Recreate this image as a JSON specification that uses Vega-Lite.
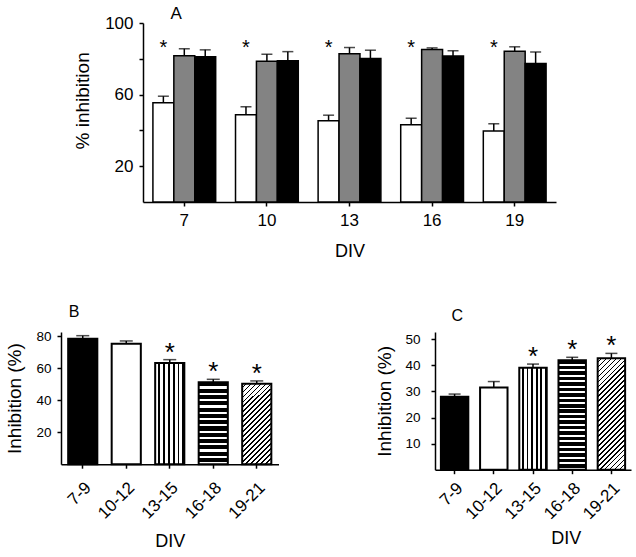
{
  "$schema": "https://vega.github.io/schema/vega-lite/v6.json",
  "padding": {"left": 4, "top": 4, "right": 2, "bottom": 2},
  "config": {
    "font": "Liberation Sans",
    "view": {"stroke": null},
    "axis": {"labelColor": "black", "titleColor": "black", "domainColor": "black", "tickColor": "black", "domainWidth": 1.5, "tickWidth": 1.5, "grid": false, "titleFontWeight": "normal", "labelFont": "Liberation Sans", "titleFont": "Liberation Sans"},
    "title": {"fontWeight": "normal", "color": "black", "font": "Liberation Sans"}
  },
  "datasets": {
    "a": [
      {"div": "7", "cond": "c1", "v": 55.4, "e": 59.1},
      {"div": "7", "cond": "c2", "v": 81.7, "e": 85.6},
      {"div": "7", "cond": "c3", "v": 81.1, "e": 85.0},
      {"div": "10", "cond": "c1", "v": 48.7, "e": 53.2},
      {"div": "10", "cond": "c2", "v": 78.7, "e": 82.6},
      {"div": "10", "cond": "c3", "v": 78.9, "e": 84.0},
      {"div": "13", "cond": "c1", "v": 45.4, "e": 48.5},
      {"div": "13", "cond": "c2", "v": 82.8, "e": 86.3},
      {"div": "13", "cond": "c3", "v": 80.2, "e": 84.8},
      {"div": "16", "cond": "c1", "v": 43.1, "e": 46.8},
      {"div": "16", "cond": "c2", "v": 85.2, "e": 86.1},
      {"div": "16", "cond": "c3", "v": 81.5, "e": 84.5},
      {"div": "19", "cond": "c1", "v": 39.6, "e": 43.7},
      {"div": "19", "cond": "c2", "v": 84.2, "e": 86.7},
      {"div": "19", "cond": "c3", "v": 77.4, "e": 83.8}
    ],
    "b": [
      {"div": "7-9", "v": 78.5, "e": 80.4, "sig": false},
      {"div": "10-12", "v": 75.4, "e": 77.1, "sig": false},
      {"div": "13-15", "v": 63.3, "e": 65.4, "sig": true},
      {"div": "16-18", "v": 51.2, "e": 53.1, "sig": true},
      {"div": "19-21", "v": 50.4, "e": 52.1, "sig": true}
    ],
    "c": [
      {"div": "7-9", "v": 28.0, "e": 29.0, "sig": false},
      {"div": "10-12", "v": 31.5, "e": 33.8, "sig": false},
      {"div": "13-15", "v": 39.1, "e": 40.5, "sig": true},
      {"div": "16-18", "v": 42.0, "e": 43.1, "sig": true},
      {"div": "19-21", "v": 42.7, "e": 44.6, "sig": true}
    ]
  },
  "spacing": 43,
  "vconcat": [
    {
      "spacing": 0,
      "hconcat": [
        {"width": 12, "height": 10, "data": {"values": []}, "mark": "text"},
        {
          "width": 413,
          "height": 179,
          "title": {"text": "A", "anchor": "start", "frame": "group", "dx": 27.6, "offset": -8.6, "fontSize": 17},
          "data": {"name": "a"},
          "encoding": {
            "x": {"field": "div", "type": "ordinal", "sort": ["7", "10", "13", "16", "19"], "scale": {"paddingInner": 0.24, "paddingOuter": 0.12},
              "axis": {"title": "DIV", "labelAngle": 0, "labelFontSize": 17, "labelPadding": 6, "tickSize": 4, "titleFontSize": 18, "titleY": 40.2}},
            "xOffset": {"field": "cond", "type": "nominal", "sort": ["c1", "c2", "c3"], "scale": {"paddingInner": 0, "paddingOuter": 0}},
            "y": {"field": "v", "type": "quantitative", "title": "% inhibition", "scale": {"domain": [0, 100], "nice": false},
              "axis": {"values": [20, 40, 60, 80, 100], "labelExpr": "datum.value == 40 || datum.value == 80 ? '' : datum.label", "labelFontSize": 17, "labelPadding": 6, "tickSize": 4, "titleFontSize": 19, "titleX": -51, "titleY": 77.4}}
          },
          "layer": [
            {"mark": {"type": "rule", "color": "black", "strokeWidth": 1.5}, "encoding": {"y2": {"field": "e"}}},
            {"mark": {"type": "tick", "color": "black", "size": 11, "thickness": 1.5}, "encoding": {"y": {"field": "e", "type": "quantitative", "title": "% inhibition"}}},
            {"mark": {"type": "bar", "stroke": "black", "strokeWidth": 1.5},
              "encoding": {"fill": {"field": "cond", "type": "nominal", "scale": {"domain": ["c1", "c2", "c3"], "range": ["white", "#838383", "black"]}, "legend": null}}},
            {"transform": [{"filter": "datum.cond == 'c1'"}],
              "mark": {"type": "text", "text": "*", "fontSize": 20, "baseline": "middle", "color": "black"},
              "encoding": {"y": {"datum": 86.3, "type": "quantitative"}}}
          ]
        }
      ]
    },
    {
      "spacing": 96,
      "hconcat": [
        {
          "width": 217.5,
          "height": 132.2,
          "title": {"text": "B", "anchor": "start", "frame": "group", "dx": 7.7, "offset": 9.2, "fontSize": 16},
          "data": {"name": "b"},
          "encoding": {
            "x": {"field": "div", "type": "ordinal", "sort": ["7-9", "10-12", "13-15", "16-18", "19-21"], "scale": {"paddingInner": 0.33, "paddingOuter": 0.165},
              "axis": {"title": "DIV", "labelAngle": -45, "labelAlign": "right", "labelBaseline": "top", "labelFontSize": 17, "labelPadding": 11, "tickSize": 4, "titleFontSize": 18, "titleY": 68.2}},
            "y": {"field": "v", "type": "quantitative", "title": "Inhibition (%)", "scale": {"domain": [0, 82.7], "nice": false},
              "axis": {"values": [20, 40, 60, 80], "labelFontSize": 13.5, "labelPadding": 6, "tickSize": 4, "titleFontSize": 19, "titleX": -37}}
          },
          "layer": [
            {"mark": {"type": "rule", "color": "black", "strokeWidth": 1.5}, "encoding": {"y2": {"field": "e"}}},
            {"mark": {"type": "tick", "color": "black", "size": 13, "thickness": 1.5}, "encoding": {"y": {"field": "e", "type": "quantitative", "title": "Inhibition (%)"}}},
            {"mark": {"type": "bar", "stroke": "black", "strokeWidth": 2},
              "encoding": {"fill": {
                "condition": [
                  {"test": "datum.div == '7-9'", "value": "black"},
                  {"test": "datum.div == '10-12'", "value": "white"},
                  {"test": "datum.div == '13-15'", "value": {"gradient": "linear", "x1": 0, "y1": 0, "x2": 1, "y2": 0, "stops": [
                    {"offset": 0, "color": "white"}, {"offset": 0.103, "color": "white"}, {"offset": 0.103, "color": "black"}, {"offset": 0.167, "color": "black"},
                    {"offset": 0.167, "color": "white"}, {"offset": 0.27, "color": "white"}, {"offset": 0.27, "color": "black"}, {"offset": 0.333, "color": "black"},
                    {"offset": 0.333, "color": "white"}, {"offset": 0.437, "color": "white"}, {"offset": 0.437, "color": "black"}, {"offset": 0.5, "color": "black"},
                    {"offset": 0.5, "color": "white"}, {"offset": 0.603, "color": "white"}, {"offset": 0.603, "color": "black"}, {"offset": 0.667, "color": "black"},
                    {"offset": 0.667, "color": "white"}, {"offset": 0.77, "color": "white"}, {"offset": 0.77, "color": "black"}, {"offset": 0.833, "color": "black"},
                    {"offset": 0.833, "color": "white"}, {"offset": 0.937, "color": "white"}, {"offset": 0.937, "color": "black"}, {"offset": 1, "color": "black"}]}},
                  {"test": "datum.div == '16-18'", "value": {"gradient": "linear", "x1": 0, "y1": 0, "x2": 0, "y2": 1, "stops": [
                    {"offset": 0, "color": "black"}, {"offset": 0.05, "color": "black"}, {"offset": 0.05, "color": "white"}, {"offset": 0.0769, "color": "white"},
                    {"offset": 0.0769, "color": "black"}, {"offset": 0.1269, "color": "black"}, {"offset": 0.1269, "color": "white"}, {"offset": 0.1538, "color": "white"},
                    {"offset": 0.1538, "color": "black"}, {"offset": 0.2038, "color": "black"}, {"offset": 0.2038, "color": "white"}, {"offset": 0.2308, "color": "white"},
                    {"offset": 0.2308, "color": "black"}, {"offset": 0.2808, "color": "black"}, {"offset": 0.2808, "color": "white"}, {"offset": 0.3077, "color": "white"},
                    {"offset": 0.3077, "color": "black"}, {"offset": 0.3577, "color": "black"}, {"offset": 0.3577, "color": "white"}, {"offset": 0.3846, "color": "white"},
                    {"offset": 0.3846, "color": "black"}, {"offset": 0.4346, "color": "black"}, {"offset": 0.4346, "color": "white"}, {"offset": 0.4615, "color": "white"},
                    {"offset": 0.4615, "color": "black"}, {"offset": 0.5115, "color": "black"}, {"offset": 0.5115, "color": "white"}, {"offset": 0.5385, "color": "white"},
                    {"offset": 0.5385, "color": "black"}, {"offset": 0.5885, "color": "black"}, {"offset": 0.5885, "color": "white"}, {"offset": 0.6154, "color": "white"},
                    {"offset": 0.6154, "color": "black"}, {"offset": 0.6654, "color": "black"}, {"offset": 0.6654, "color": "white"}, {"offset": 0.6923, "color": "white"},
                    {"offset": 0.6923, "color": "black"}, {"offset": 0.7423, "color": "black"}, {"offset": 0.7423, "color": "white"}, {"offset": 0.7692, "color": "white"},
                    {"offset": 0.7692, "color": "black"}, {"offset": 0.8192, "color": "black"}, {"offset": 0.8192, "color": "white"}, {"offset": 0.8462, "color": "white"},
                    {"offset": 0.8462, "color": "black"}, {"offset": 0.8962, "color": "black"}, {"offset": 0.8962, "color": "white"}, {"offset": 0.9231, "color": "white"},
                    {"offset": 0.9231, "color": "black"}, {"offset": 0.9731, "color": "black"}, {"offset": 0.9731, "color": "white"}, {"offset": 1, "color": "white"}]}}
                ],
                "value": {"gradient": "linear", "x1": 0, "y1": 0, "x2": 0.4347, "y2": 1.204, "stops": [
                  {"offset": 0, "color": "white"}, {"offset": 0.0295, "color": "white"}, {"offset": 0.0295, "color": "black"}, {"offset": 0.0455, "color": "black"},
                  {"offset": 0.0455, "color": "white"}, {"offset": 0.075, "color": "white"}, {"offset": 0.075, "color": "black"}, {"offset": 0.0909, "color": "black"},
                  {"offset": 0.0909, "color": "white"}, {"offset": 0.1204, "color": "white"}, {"offset": 0.1204, "color": "black"}, {"offset": 0.1364, "color": "black"},
                  {"offset": 0.1364, "color": "white"}, {"offset": 0.1659, "color": "white"}, {"offset": 0.1659, "color": "black"}, {"offset": 0.1818, "color": "black"},
                  {"offset": 0.1818, "color": "white"}, {"offset": 0.2113, "color": "white"}, {"offset": 0.2113, "color": "black"}, {"offset": 0.2273, "color": "black"},
                  {"offset": 0.2273, "color": "white"}, {"offset": 0.2568, "color": "white"}, {"offset": 0.2568, "color": "black"}, {"offset": 0.2727, "color": "black"},
                  {"offset": 0.2727, "color": "white"}, {"offset": 0.3022, "color": "white"}, {"offset": 0.3022, "color": "black"}, {"offset": 0.3182, "color": "black"},
                  {"offset": 0.3182, "color": "white"}, {"offset": 0.3477, "color": "white"}, {"offset": 0.3477, "color": "black"}, {"offset": 0.3636, "color": "black"},
                  {"offset": 0.3636, "color": "white"}, {"offset": 0.3931, "color": "white"}, {"offset": 0.3931, "color": "black"}, {"offset": 0.4091, "color": "black"},
                  {"offset": 0.4091, "color": "white"}, {"offset": 0.4386, "color": "white"}, {"offset": 0.4386, "color": "black"}, {"offset": 0.4545, "color": "black"},
                  {"offset": 0.4545, "color": "white"}, {"offset": 0.484, "color": "white"}, {"offset": 0.484, "color": "black"}, {"offset": 0.5, "color": "black"},
                  {"offset": 0.5, "color": "white"}, {"offset": 0.5295, "color": "white"}, {"offset": 0.5295, "color": "black"}, {"offset": 0.5455, "color": "black"},
                  {"offset": 0.5455, "color": "white"}, {"offset": 0.575, "color": "white"}, {"offset": 0.575, "color": "black"}, {"offset": 0.5909, "color": "black"},
                  {"offset": 0.5909, "color": "white"}, {"offset": 0.6204, "color": "white"}, {"offset": 0.6204, "color": "black"}, {"offset": 0.6364, "color": "black"},
                  {"offset": 0.6364, "color": "white"}, {"offset": 0.6659, "color": "white"}, {"offset": 0.6659, "color": "black"}, {"offset": 0.6818, "color": "black"},
                  {"offset": 0.6818, "color": "white"}, {"offset": 0.7113, "color": "white"}, {"offset": 0.7113, "color": "black"}, {"offset": 0.7273, "color": "black"},
                  {"offset": 0.7273, "color": "white"}, {"offset": 0.7568, "color": "white"}, {"offset": 0.7568, "color": "black"}, {"offset": 0.7727, "color": "black"},
                  {"offset": 0.7727, "color": "white"}, {"offset": 0.8022, "color": "white"}, {"offset": 0.8022, "color": "black"}, {"offset": 0.8182, "color": "black"},
                  {"offset": 0.8182, "color": "white"}, {"offset": 0.8477, "color": "white"}, {"offset": 0.8477, "color": "black"}, {"offset": 0.8636, "color": "black"},
                  {"offset": 0.8636, "color": "white"}, {"offset": 0.8931, "color": "white"}, {"offset": 0.8931, "color": "black"}, {"offset": 0.9091, "color": "black"},
                  {"offset": 0.9091, "color": "white"}, {"offset": 0.9386, "color": "white"}, {"offset": 0.9386, "color": "black"}, {"offset": 0.9545, "color": "black"},
                  {"offset": 0.9545, "color": "white"}, {"offset": 0.984, "color": "white"}, {"offset": 0.984, "color": "black"}, {"offset": 1, "color": "black"}]}
              }}},
            {"transform": [{"filter": "datum.sig"}],
              "mark": {"type": "text", "text": "*", "fontSize": 26, "baseline": "middle", "dy": -7, "color": "black"},
              "encoding": {"y": {"field": "e", "type": "quantitative", "title": "Inhibition (%)"}}}
          ]
        },
        {
          "width": 196,
          "height": 137.7,
          "title": {"text": "C", "anchor": "start", "frame": "group", "dx": 16.6, "offset": 8.2, "fontSize": 16},
          "data": {"name": "c"},
          "encoding": {
            "x": {"field": "div", "type": "ordinal", "sort": ["7-9", "10-12", "13-15", "16-18", "19-21"], "scale": {"paddingInner": 0.3, "paddingOuter": 0.15},
              "axis": {"title": "DIV", "labelAngle": -45, "labelAlign": "right", "labelBaseline": "top", "labelFontSize": 17, "labelPadding": 6, "tickSize": 4, "titleFontSize": 18, "titleX": 130.7, "titleY": 59.4}},
            "y": {"field": "v", "type": "quantitative", "title": "Inhibition (%)", "scale": {"domain": [0, 52.8], "nice": false},
              "axis": {"values": [10, 20, 30, 40, 50], "labelFontSize": 13.5, "labelPadding": 11, "tickSize": 4, "titleFontSize": 19, "titleX": -40.3}}
          },
          "layer": [
            {"mark": {"type": "rule", "color": "black", "strokeWidth": 1.5}, "encoding": {"y2": {"field": "e"}}},
            {"mark": {"type": "tick", "color": "black", "size": 12, "thickness": 1.5}, "encoding": {"y": {"field": "e", "type": "quantitative", "title": "Inhibition (%)"}}},
            {"mark": {"type": "bar", "stroke": "black", "strokeWidth": 2},
              "encoding": {"fill": {
                "condition": [
                  {"test": "datum.div == '7-9'", "value": "black"},
                  {"test": "datum.div == '10-12'", "value": "white"},
                  {"test": "datum.div == '13-15'", "value": {"gradient": "linear", "x1": 0, "y1": 0, "x2": 1, "y2": 0, "stops": [
                    {"offset": 0, "color": "white"}, {"offset": 0.103, "color": "white"}, {"offset": 0.103, "color": "black"}, {"offset": 0.167, "color": "black"},
                    {"offset": 0.167, "color": "white"}, {"offset": 0.27, "color": "white"}, {"offset": 0.27, "color": "black"}, {"offset": 0.333, "color": "black"},
                    {"offset": 0.333, "color": "white"}, {"offset": 0.437, "color": "white"}, {"offset": 0.437, "color": "black"}, {"offset": 0.5, "color": "black"},
                    {"offset": 0.5, "color": "white"}, {"offset": 0.603, "color": "white"}, {"offset": 0.603, "color": "black"}, {"offset": 0.667, "color": "black"},
                    {"offset": 0.667, "color": "white"}, {"offset": 0.77, "color": "white"}, {"offset": 0.77, "color": "black"}, {"offset": 0.833, "color": "black"},
                    {"offset": 0.833, "color": "white"}, {"offset": 0.937, "color": "white"}, {"offset": 0.937, "color": "black"}, {"offset": 1, "color": "black"}]}},
                  {"test": "datum.div == '16-18'", "value": {"gradient": "linear", "x1": 0, "y1": 0, "x2": 0, "y2": 1, "stops": [
                    {"offset": 0, "color": "black"}, {"offset": 0.0325, "color": "black"}, {"offset": 0.0325, "color": "white"}, {"offset": 0.05, "color": "white"},
                    {"offset": 0.05, "color": "black"}, {"offset": 0.0825, "color": "black"}, {"offset": 0.0825, "color": "white"}, {"offset": 0.1, "color": "white"},
                    {"offset": 0.1, "color": "black"}, {"offset": 0.1325, "color": "black"}, {"offset": 0.1325, "color": "white"}, {"offset": 0.15, "color": "white"},
                    {"offset": 0.15, "color": "black"}, {"offset": 0.1825, "color": "black"}, {"offset": 0.1825, "color": "white"}, {"offset": 0.2, "color": "white"},
                    {"offset": 0.2, "color": "black"}, {"offset": 0.2325, "color": "black"}, {"offset": 0.2325, "color": "white"}, {"offset": 0.25, "color": "white"},
                    {"offset": 0.25, "color": "black"}, {"offset": 0.2825, "color": "black"}, {"offset": 0.2825, "color": "white"}, {"offset": 0.3, "color": "white"},
                    {"offset": 0.3, "color": "black"}, {"offset": 0.3325, "color": "black"}, {"offset": 0.3325, "color": "white"}, {"offset": 0.35, "color": "white"},
                    {"offset": 0.35, "color": "black"}, {"offset": 0.3825, "color": "black"}, {"offset": 0.3825, "color": "white"}, {"offset": 0.4, "color": "white"},
                    {"offset": 0.4, "color": "black"}, {"offset": 0.4325, "color": "black"}, {"offset": 0.4325, "color": "white"}, {"offset": 0.45, "color": "white"},
                    {"offset": 0.45, "color": "black"}, {"offset": 0.4825, "color": "black"}, {"offset": 0.4825, "color": "white"}, {"offset": 0.5, "color": "white"},
                    {"offset": 0.5, "color": "black"}, {"offset": 0.5325, "color": "black"}, {"offset": 0.5325, "color": "white"}, {"offset": 0.55, "color": "white"},
                    {"offset": 0.55, "color": "black"}, {"offset": 0.5825, "color": "black"}, {"offset": 0.5825, "color": "white"}, {"offset": 0.6, "color": "white"},
                    {"offset": 0.6, "color": "black"}, {"offset": 0.6325, "color": "black"}, {"offset": 0.6325, "color": "white"}, {"offset": 0.65, "color": "white"},
                    {"offset": 0.65, "color": "black"}, {"offset": 0.6825, "color": "black"}, {"offset": 0.6825, "color": "white"}, {"offset": 0.7, "color": "white"},
                    {"offset": 0.7, "color": "black"}, {"offset": 0.7325, "color": "black"}, {"offset": 0.7325, "color": "white"}, {"offset": 0.75, "color": "white"},
                    {"offset": 0.75, "color": "black"}, {"offset": 0.7825, "color": "black"}, {"offset": 0.7825, "color": "white"}, {"offset": 0.8, "color": "white"},
                    {"offset": 0.8, "color": "black"}, {"offset": 0.8325, "color": "black"}, {"offset": 0.8325, "color": "white"}, {"offset": 0.85, "color": "white"},
                    {"offset": 0.85, "color": "black"}, {"offset": 0.8825, "color": "black"}, {"offset": 0.8825, "color": "white"}, {"offset": 0.9, "color": "white"},
                    {"offset": 0.9, "color": "black"}, {"offset": 0.9325, "color": "black"}, {"offset": 0.9325, "color": "white"}, {"offset": 0.95, "color": "white"},
                    {"offset": 0.95, "color": "black"}, {"offset": 0.9825, "color": "black"}, {"offset": 0.9825, "color": "white"}, {"offset": 1, "color": "white"}]}}
                ],
                "value": {"gradient": "linear", "x1": 0, "y1": 0, "x2": 0.2894, "y2": 1.175, "stops": [
                  {"offset": 0, "color": "white"}, {"offset": 0.0232, "color": "white"}, {"offset": 0.0232, "color": "black"}, {"offset": 0.0357, "color": "black"},
                  {"offset": 0.0357, "color": "white"}, {"offset": 0.0589, "color": "white"}, {"offset": 0.0589, "color": "black"}, {"offset": 0.0714, "color": "black"},
                  {"offset": 0.0714, "color": "white"}, {"offset": 0.0946, "color": "white"}, {"offset": 0.0946, "color": "black"}, {"offset": 0.1071, "color": "black"},
                  {"offset": 0.1071, "color": "white"}, {"offset": 0.1303, "color": "white"}, {"offset": 0.1303, "color": "black"}, {"offset": 0.1429, "color": "black"},
                  {"offset": 0.1429, "color": "white"}, {"offset": 0.1661, "color": "white"}, {"offset": 0.1661, "color": "black"}, {"offset": 0.1786, "color": "black"},
                  {"offset": 0.1786, "color": "white"}, {"offset": 0.2018, "color": "white"}, {"offset": 0.2018, "color": "black"}, {"offset": 0.2143, "color": "black"},
                  {"offset": 0.2143, "color": "white"}, {"offset": 0.2375, "color": "white"}, {"offset": 0.2375, "color": "black"}, {"offset": 0.25, "color": "black"},
                  {"offset": 0.25, "color": "white"}, {"offset": 0.2732, "color": "white"}, {"offset": 0.2732, "color": "black"}, {"offset": 0.2857, "color": "black"},
                  {"offset": 0.2857, "color": "white"}, {"offset": 0.3089, "color": "white"}, {"offset": 0.3089, "color": "black"}, {"offset": 0.3214, "color": "black"},
                  {"offset": 0.3214, "color": "white"}, {"offset": 0.3446, "color": "white"}, {"offset": 0.3446, "color": "black"}, {"offset": 0.3571, "color": "black"},
                  {"offset": 0.3571, "color": "white"}, {"offset": 0.3803, "color": "white"}, {"offset": 0.3803, "color": "black"}, {"offset": 0.3929, "color": "black"},
                  {"offset": 0.3929, "color": "white"}, {"offset": 0.4161, "color": "white"}, {"offset": 0.4161, "color": "black"}, {"offset": 0.4286, "color": "black"},
                  {"offset": 0.4286, "color": "white"}, {"offset": 0.4518, "color": "white"}, {"offset": 0.4518, "color": "black"}, {"offset": 0.4643, "color": "black"},
                  {"offset": 0.4643, "color": "white"}, {"offset": 0.4875, "color": "white"}, {"offset": 0.4875, "color": "black"}, {"offset": 0.5, "color": "black"},
                  {"offset": 0.5, "color": "white"}, {"offset": 0.5232, "color": "white"}, {"offset": 0.5232, "color": "black"}, {"offset": 0.5357, "color": "black"},
                  {"offset": 0.5357, "color": "white"}, {"offset": 0.5589, "color": "white"}, {"offset": 0.5589, "color": "black"}, {"offset": 0.5714, "color": "black"},
                  {"offset": 0.5714, "color": "white"}, {"offset": 0.5946, "color": "white"}, {"offset": 0.5946, "color": "black"}, {"offset": 0.6071, "color": "black"},
                  {"offset": 0.6071, "color": "white"}, {"offset": 0.6303, "color": "white"}, {"offset": 0.6303, "color": "black"}, {"offset": 0.6429, "color": "black"},
                  {"offset": 0.6429, "color": "white"}, {"offset": 0.6661, "color": "white"}, {"offset": 0.6661, "color": "black"}, {"offset": 0.6786, "color": "black"},
                  {"offset": 0.6786, "color": "white"}, {"offset": 0.7018, "color": "white"}, {"offset": 0.7018, "color": "black"}, {"offset": 0.7143, "color": "black"},
                  {"offset": 0.7143, "color": "white"}, {"offset": 0.7375, "color": "white"}, {"offset": 0.7375, "color": "black"}, {"offset": 0.75, "color": "black"},
                  {"offset": 0.75, "color": "white"}, {"offset": 0.7732, "color": "white"}, {"offset": 0.7732, "color": "black"}, {"offset": 0.7857, "color": "black"},
                  {"offset": 0.7857, "color": "white"}, {"offset": 0.8089, "color": "white"}, {"offset": 0.8089, "color": "black"}, {"offset": 0.8214, "color": "black"},
                  {"offset": 0.8214, "color": "white"}, {"offset": 0.8446, "color": "white"}, {"offset": 0.8446, "color": "black"}, {"offset": 0.8571, "color": "black"},
                  {"offset": 0.8571, "color": "white"}, {"offset": 0.8803, "color": "white"}, {"offset": 0.8803, "color": "black"}, {"offset": 0.8929, "color": "black"},
                  {"offset": 0.8929, "color": "white"}, {"offset": 0.9161, "color": "white"}, {"offset": 0.9161, "color": "black"}, {"offset": 0.9286, "color": "black"},
                  {"offset": 0.9286, "color": "white"}, {"offset": 0.9518, "color": "white"}, {"offset": 0.9518, "color": "black"}, {"offset": 0.9643, "color": "black"},
                  {"offset": 0.9643, "color": "white"}, {"offset": 0.9875, "color": "white"}, {"offset": 0.9875, "color": "black"}, {"offset": 1, "color": "black"}]}
              }}},
            {"transform": [{"filter": "datum.sig"}],
              "mark": {"type": "text", "text": "*", "fontSize": 26, "baseline": "middle", "dy": -7, "color": "black"},
              "encoding": {"y": {"field": "e", "type": "quantitative", "title": "Inhibition (%)"}}}
          ]
        }
      ]
    }
  ]
}
